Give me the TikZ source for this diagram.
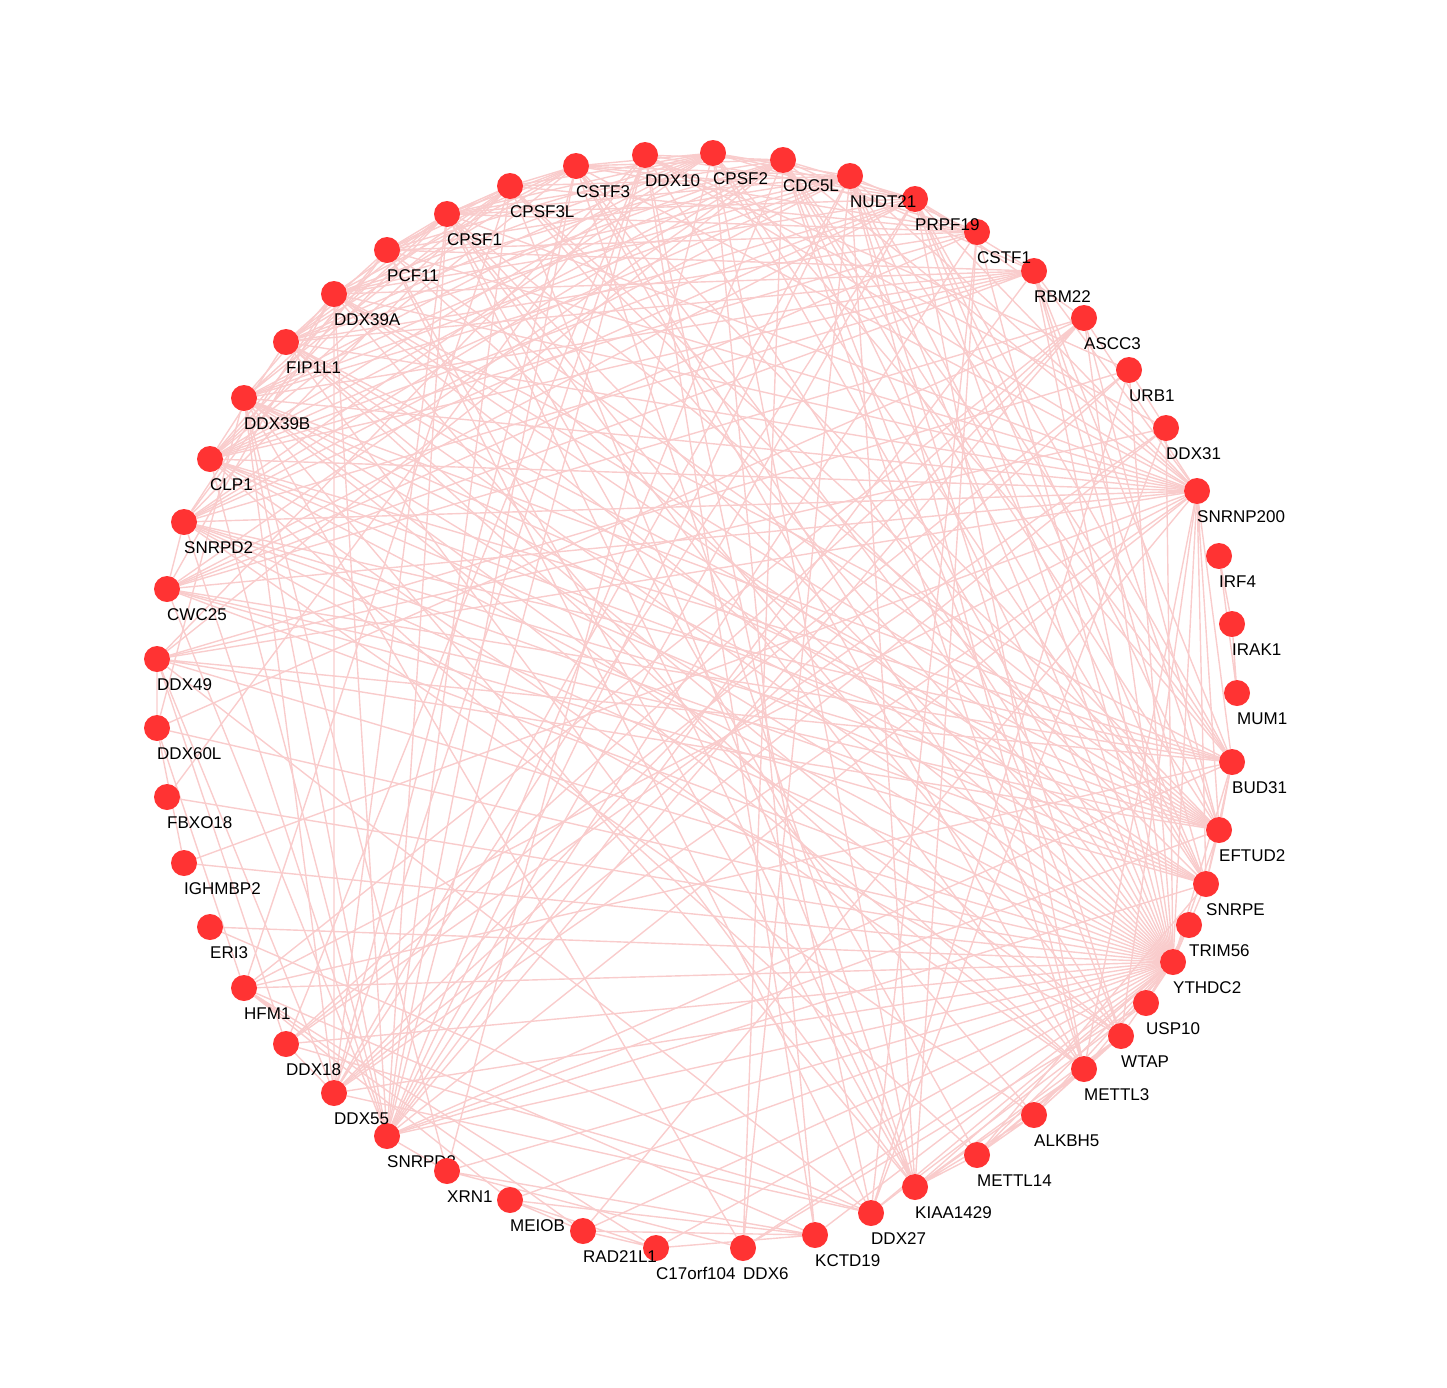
\documentclass[tikz,border=0pt]{standalone}
\usepackage{fontspec}
\setmainfont{Liberation Sans}
\usepackage{tikz}

\definecolor{nodered}{RGB}{255,51,51}
\definecolor{edgepink}{RGB}{249,204,204}

\pgfdeclarelayer{edges}
\pgfdeclarelayer{names}
\pgfdeclarelayer{top}
\pgfsetlayers{edges,main,names,top}

\tikzset{
  gene/.style={circle,fill=nodered,minimum size=26pt,inner sep=0pt},
  genelbl/.style={anchor=base west,yshift=-31pt,inner sep=0pt,font=\fontsize{17}{20}\selectfont},
  ppi/.style={draw=edgepink,line width=1.4pt}
}

\begin{document}
\begin{tikzpicture}[x=1pt,y=-1pt]
  \useasboundingbox (0,0) rectangle (1447,1387);
  % Place the genes around the circle
  \path (713,153) node[gene] (CPSF2) {};
  \path (783,160) node[gene] (CDC5L) {};
  \path (850,176) node[gene] (NUDT21) {};
  \path (915,199) node[gene] (PRPF19) {};
  \path (977,232) node[gene] (CSTF1) {};
  \path (1034,271) node[gene] (RBM22) {};
  \path (1084,318) node[gene] (ASCC3) {};
  \path (1129,370) node[gene] (URB1) {};
  \path (1166,428) node[gene] (DDX31) {};
  \path (1197,491) node[gene] (SNRNP200) {};
  \path (1219,556) node[gene] (IRF4) {};
  \path (1232,624) node[gene] (IRAK1) {};
  \path (1237,693) node[gene] (MUM1) {};
  \path (1232,762) node[gene] (BUD31) {};
  \path (1219,830) node[gene] (EFTUD2) {};
  \path (1206,884) node[gene] (SNRPE) {};
  \path (1189,925) node[gene] (TRIM56) {};
  \path (1173,962) node[gene] (YTHDC2) {};
  \path (1146,1003) node[gene] (USP10) {};
  \path (1121,1036) node[gene] (WTAP) {};
  \path (1084,1069) node[gene] (METTL3) {};
  \path (1034,1115) node[gene] (ALKBH5) {};
  \path (977,1155) node[gene] (METTL14) {};
  \path (915,1187) node[gene] (KIAA1429) {};
  \path (871,1213) node[gene] (DDX27) {};
  \path (815,1235) node[gene] (KCTD19) {};
  \path (743,1248) node[gene] (DDX6) {};
  \path (656,1248) node[gene] (C17orf104) {};
  \path (583,1231) node[gene] (RAD21L1) {};
  \path (510,1200) node[gene] (MEIOB) {};
  \begin{pgfonlayer}{top}
  \path (447,1171) node[gene] (XRN1) {};
  \end{pgfonlayer}
  \path (387,1136) node[gene] (SNRPD3) {};
  \path (334,1093) node[gene] (DDX55) {};
  \path (286,1044) node[gene] (DDX18) {};
  \path (244,988) node[gene] (HFM1) {};
  \path (210,927) node[gene] (ERI3) {};
  \path (184,863) node[gene] (IGHMBP2) {};
  \path (167,797) node[gene] (FBXO18) {};
  \path (157,728) node[gene] (DDX60L) {};
  \path (157,659) node[gene] (DDX49) {};
  \path (167,589) node[gene] (CWC25) {};
  \path (184,522) node[gene] (SNRPD2) {};
  \path (210,459) node[gene] (CLP1) {};
  \path (244,398) node[gene] (DDX39B) {};
  \path (286,342) node[gene] (FIP1L1) {};
  \path (334,294) node[gene] (DDX39A) {};
  \path (387,250) node[gene] (PCF11) {};
  \path (447,214) node[gene] (CPSF1) {};
  \path (510,186) node[gene] (CPSF3L) {};
  \path (576,166) node[gene] (CSTF3) {};
  \path (645,155) node[gene] (DDX10) {};
  % Gene names below right of each dot
  \begin{pgfonlayer}{names}
  \foreach \g in {CPSF2,CDC5L,NUDT21,PRPF19,CSTF1,RBM22,ASCC3,URB1,DDX31,SNRNP200,
    IRF4,IRAK1,MUM1,BUD31,EFTUD2,SNRPE,TRIM56,YTHDC2,USP10,WTAP,METTL3,ALKBH5,
    METTL14,KIAA1429,DDX27,KCTD19,DDX6,C17orf104,RAD21L1,MEIOB,XRN1,SNRPD3,DDX55,
    DDX18,HFM1,ERI3,IGHMBP2,FBXO18,DDX60L,DDX49,CWC25,SNRPD2,CLP1,DDX39B,FIP1L1,
    DDX39A,PCF11,CPSF1,CPSF3L,CSTF3,DDX10}
    \path (\g.center) node[genelbl] (\g-lbl) {\g};
  \end{pgfonlayer}
  % Draw the interactions
  \begin{pgfonlayer}{edges}
  \begin{scope}[ppi]
  % YTHDC2 hub
  \foreach \g in {CPSF2,CDC5L,NUDT21,PRPF19,CSTF1,RBM22,ASCC3,URB1,DDX31,SNRNP200,
    BUD31,EFTUD2,SNRPE,TRIM56,USP10,WTAP,METTL3,ALKBH5,METTL14,KIAA1429,DDX27,
    KCTD19,DDX6,C17orf104,RAD21L1,MEIOB,XRN1,SNRPD3,DDX55,DDX18,HFM1,ERI3,IGHMBP2,
    FBXO18,DDX60L,DDX49,CWC25,SNRPD2,CLP1,DDX39B,FIP1L1,DDX39A,PCF11,CPSF1,CPSF3L,
    CSTF3,DDX10}
    \draw (YTHDC2) -- (\g);
  % spliceosome
  \draw (CDC5L) -- (PRPF19) (CDC5L) -- (RBM22) (CDC5L) -- (SNRNP200) (CDC5L) -- (BUD31) (CDC5L) -- (EFTUD2) (CDC5L) -- (SNRPE) (CDC5L) -- (SNRPD2) (CDC5L) -- (SNRPD3) (CDC5L) -- (CWC25);
  \draw (PRPF19) -- (RBM22) (PRPF19) -- (SNRNP200) (PRPF19) -- (BUD31) (PRPF19) -- (EFTUD2) (PRPF19) -- (SNRPE) (PRPF19) -- (SNRPD2) (PRPF19) -- (SNRPD3) (PRPF19) -- (CWC25);
  \draw (RBM22) -- (SNRNP200) (RBM22) -- (BUD31) (RBM22) -- (EFTUD2) (RBM22) -- (SNRPE) (RBM22) -- (SNRPD2) (RBM22) -- (SNRPD3) (RBM22) -- (CWC25);
  \draw (SNRNP200) -- (BUD31) (SNRNP200) -- (EFTUD2) (SNRNP200) -- (SNRPE) (SNRNP200) -- (SNRPD2) (SNRNP200) -- (SNRPD3) (SNRNP200) -- (CWC25);
  \draw (BUD31) -- (EFTUD2) (BUD31) -- (SNRPE) (BUD31) -- (SNRPD2) (BUD31) -- (SNRPD3) (BUD31) -- (CWC25);
  \draw (EFTUD2) -- (SNRPE) (EFTUD2) -- (SNRPD2) (EFTUD2) -- (SNRPD3) (EFTUD2) -- (CWC25);
  \draw (SNRPE) -- (SNRPD2) (SNRPE) -- (SNRPD3) (SNRPE) -- (CWC25) (SNRPD2) -- (SNRPD3) (SNRPD2) -- (CWC25) (SNRPD3) -- (CWC25);
  % cleavage and polyadenylation
  \draw (CPSF1) -- (CPSF2) (CPSF1) -- (CPSF3L) (CPSF1) -- (CSTF1) (CPSF1) -- (CSTF3) (CPSF1) -- (NUDT21) (CPSF1) -- (FIP1L1) (CPSF1) -- (PCF11) (CPSF1) -- (CLP1);
  \draw (CPSF2) -- (CPSF3L) (CPSF2) -- (CSTF1) (CPSF2) -- (CSTF3) (CPSF2) -- (NUDT21) (CPSF2) -- (FIP1L1) (CPSF2) -- (PCF11) (CPSF2) -- (CLP1);
  \draw (CPSF3L) -- (CSTF1) (CPSF3L) -- (CSTF3) (CPSF3L) -- (NUDT21) (CPSF3L) -- (FIP1L1) (CPSF3L) -- (PCF11) (CPSF3L) -- (CLP1);
  \draw (CSTF1) -- (CSTF3) (CSTF1) -- (NUDT21) (CSTF1) -- (FIP1L1) (CSTF1) -- (PCF11) (CSTF1) -- (CLP1);
  \draw (CSTF3) -- (NUDT21) (CSTF3) -- (FIP1L1) (CSTF3) -- (PCF11) (CSTF3) -- (CLP1) (NUDT21) -- (FIP1L1) (NUDT21) -- (PCF11) (NUDT21) -- (CLP1);
  \draw (FIP1L1) -- (PCF11) (FIP1L1) -- (CLP1) (PCF11) -- (CLP1);
  % polyadenylation to spliceosome
  \draw (CPSF1) -- (SNRNP200) (CPSF1) -- (EFTUD2) (CPSF1) -- (PRPF19) (CPSF1) -- (CDC5L) (CPSF1) -- (SNRPD3);
  \draw (CPSF2) -- (PRPF19) (CPSF2) -- (SNRPD2) (CPSF2) -- (SNRPE) (CPSF2) -- (BUD31);
  \draw (CPSF3L) -- (SNRPD2) (CPSF3L) -- (SNRPD3) (CPSF3L) -- (SNRPE) (CPSF3L) -- (EFTUD2) (CSTF1) -- (SNRPD3) (CSTF1) -- (CWC25);
  \draw (CSTF3) -- (CDC5L) (CSTF3) -- (PRPF19) (CSTF3) -- (SNRNP200) (CSTF3) -- (SNRPD3) (CSTF3) -- (EFTUD2);
  \draw (NUDT21) -- (SNRPD3) (NUDT21) -- (SNRPE) (NUDT21) -- (SNRNP200) (NUDT21) -- (BUD31) (NUDT21) -- (SNRPD2);
  \draw (FIP1L1) -- (SNRNP200) (FIP1L1) -- (EFTUD2) (FIP1L1) -- (SNRPE) (FIP1L1) -- (CDC5L) (FIP1L1) -- (RBM22) (PCF11) -- (SNRPD2) (PCF11) -- (EFTUD2) (PCF11) -- (SNRNP200) (PCF11) -- (RBM22);
  \draw (CLP1) -- (SNRNP200) (CLP1) -- (EFTUD2) (CLP1) -- (BUD31) (CLP1) -- (SNRPE) (CLP1) -- (SNRPD3) (CLP1) -- (PRPF19) (CLP1) -- (CDC5L) (CLP1) -- (RBM22);
  % export helicases
  \draw (DDX39A) -- (DDX39B) (DDX39A) -- (CPSF1) (DDX39A) -- (CPSF2) (DDX39A) -- (NUDT21) (DDX39A) -- (SNRNP200) (DDX39A) -- (EFTUD2) (DDX39A) -- (SNRPE) (DDX39A) -- (CDC5L);
  \draw (DDX39A) -- (PRPF19) (DDX39A) -- (SNRPD2) (DDX39A) -- (SNRPD3) (DDX39A) -- (CWC25) (DDX39A) -- (BUD31) (DDX39A) -- (CSTF3) (DDX39A) -- (DDX55) (DDX39A) -- (RBM22);
  \draw (DDX39B) -- (CPSF1) (DDX39B) -- (CPSF2) (DDX39B) -- (CPSF3L) (DDX39B) -- (NUDT21) (DDX39B) -- (SNRNP200) (DDX39B) -- (EFTUD2) (DDX39B) -- (SNRPE) (DDX39B) -- (BUD31);
  \draw (DDX39B) -- (CDC5L) (DDX39B) -- (PRPF19) (DDX39B) -- (SNRPD3) (DDX39B) -- (RBM22) (DDX39B) -- (METTL3) (DDX39B) -- (WTAP) (DDX39B) -- (KIAA1429) (DDX39B) -- (DDX6) (DDX39B) -- (XRN1);
  % ribosome biogenesis helicases
  \draw (DDX10) -- (DDX18) (DDX10) -- (DDX27) (DDX10) -- (DDX31) (DDX10) -- (DDX49) (DDX10) -- (DDX55) (DDX10) -- (URB1) (DDX18) -- (DDX27) (DDX18) -- (DDX31) (DDX18) -- (DDX49);
  \draw (DDX18) -- (DDX55) (DDX18) -- (URB1) (DDX27) -- (DDX31) (DDX27) -- (DDX49) (DDX27) -- (DDX55) (DDX27) -- (URB1) (DDX31) -- (DDX49) (DDX31) -- (DDX55) (DDX31) -- (URB1);
  \draw (DDX49) -- (DDX55) (DDX49) -- (URB1) (DDX55) -- (URB1) (DDX49) -- (BUD31) (DDX49) -- (EFTUD2) (DDX49) -- (SNRNP200) (DDX49) -- (CDC5L) (DDX55) -- (SNRNP200) (DDX55) -- (DDX39B);
  \draw (DDX10) -- (SNRNP200) (DDX10) -- (CDC5L) (DDX10) -- (PRPF19) (DDX10) -- (SNRPD3) (DDX55) -- (CPSF1) (DDX55) -- (PRPF19) (DDX55) -- (CSTF3) (DDX55) -- (NUDT21);
  % other helicases
  \draw (ASCC3) -- (SNRNP200) (ASCC3) -- (HFM1) (ASCC3) -- (DDX60L) (ASCC3) -- (SNRPD3) (ASCC3) -- (DDX55) (ASCC3) -- (DDX18) (ASCC3) -- (EFTUD2) (ASCC3) -- (PRPF19) (ASCC3) -- (CWC25);
  \draw (HFM1) -- (SNRNP200) (HFM1) -- (BUD31) (HFM1) -- (MEIOB) (HFM1) -- (RAD21L1) (HFM1) -- (C17orf104) (HFM1) -- (KCTD19) (HFM1) -- (DDX60L) (HFM1) -- (CPSF3L);
  \draw (DDX60L) -- (DDX39B) (DDX60L) -- (DDX49) (DDX60L) -- (IGHMBP2) (IGHMBP2) -- (SNRNP200) (FBXO18) -- (DDX10) (ERI3) -- (DDX27);
  % m6A writers and erasers
  \draw (METTL3) -- (METTL14) (METTL3) -- (WTAP) (METTL3) -- (KIAA1429) (METTL3) -- (ALKBH5) (METTL14) -- (WTAP) (METTL14) -- (KIAA1429) (METTL14) -- (ALKBH5) (WTAP) -- (KIAA1429) (WTAP) -- (ALKBH5) (KIAA1429) -- (ALKBH5);
  \draw (WTAP) -- (CPSF1) (WTAP) -- (NUDT21) (WTAP) -- (CSTF3) (WTAP) -- (FIP1L1) (WTAP) -- (SNRNP200) (WTAP) -- (CDC5L) (WTAP) -- (SNRPD2);
  \draw (KIAA1429) -- (CPSF1) (KIAA1429) -- (CPSF2) (KIAA1429) -- (CPSF3L) (KIAA1429) -- (FIP1L1) (KIAA1429) -- (NUDT21) (KIAA1429) -- (CSTF1) (KIAA1429) -- (CSTF3) (KIAA1429) -- (PCF11);
  \draw (METTL3) -- (CPSF1) (METTL3) -- (CSTF3) (METTL3) -- (NUDT21) (METTL3) -- (SNRNP200) (METTL3) -- (FIP1L1) (METTL3) -- (PRPF19) (METTL3) -- (CDC5L) (METTL3) -- (CLP1);
  \draw (METTL14) -- (CPSF1) (METTL14) -- (SNRPE) (METTL14) -- (CLP1) (ALKBH5) -- (DDX39A) (ALKBH5) -- (SNRPD2);
  % decay, meiosis and the rest
  \draw (MEIOB) -- (C17orf104) (MEIOB) -- (RAD21L1) (MEIOB) -- (KCTD19) (RAD21L1) -- (C17orf104) (RAD21L1) -- (KCTD19) (RAD21L1) -- (SNRNP200) (C17orf104) -- (KCTD19);
  \draw (XRN1) -- (DDX6) (XRN1) -- (KCTD19) (XRN1) -- (CPSF2) (XRN1) -- (SNRPD3) (DDX6) -- (USP10) (DDX6) -- (CDC5L) (DDX6) -- (NUDT21) (KCTD19) -- (CPSF2) (KCTD19) -- (DDX10);
  \draw (USP10) -- (TRIM56) (USP10) -- (DDX27) (DDX27) -- (CSTF1) (DDX27) -- (PCF11) (IRF4) -- (IRAK1) (IRAK1) -- (MUM1) (IRF4) -- (MUM1);
  \end{scope}
  \end{pgfonlayer}
\end{tikzpicture}
\end{document}
